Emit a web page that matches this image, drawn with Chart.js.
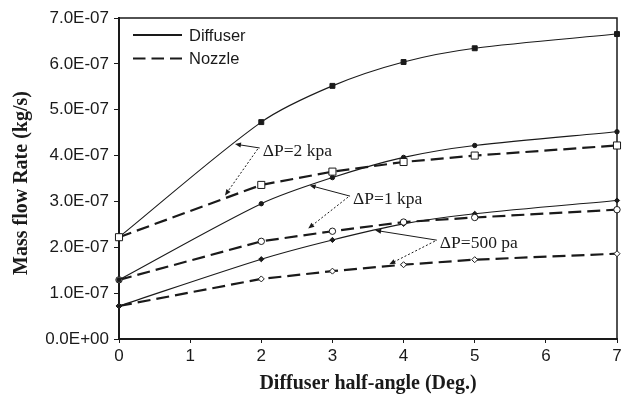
<!DOCTYPE html>
<html><head><meta charset="utf-8">
<script src="https://cdn.jsdelivr.net/npm/chart.js@4"></script>
<style>html,body{margin:0;padding:0;background:#fff}canvas{display:block}</style>
</head><body>
<canvas id="c" width="627" height="400"></canvas>
<script>
// ---- data ----
const angles = [0, 2, 3, 4, 5, 7];
const diffuser2kPa  = [2.22e-7, 4.73e-7, 5.52e-7, 6.04e-7, 6.34e-7, 6.65e-7];
const nozzle2kPa    = [2.22e-7, 3.36e-7, 3.65e-7, 3.86e-7, 4.00e-7, 4.22e-7];
const diffuser1kPa  = [1.29e-7, 2.95e-7, 3.52e-7, 3.96e-7, 4.22e-7, 4.52e-7];
const nozzle1kPa    = [1.29e-7, 2.13e-7, 2.35e-7, 2.55e-7, 2.65e-7, 2.82e-7];
const diffuser500Pa = [0.72e-7, 1.74e-7, 2.16e-7, 2.51e-7, 2.73e-7, 3.02e-7];
const nozzle500Pa   = [0.72e-7, 1.31e-7, 1.48e-7, 1.62e-7, 1.73e-7, 1.86e-7];
const xTicks = [0, 1, 2, 3, 4, 5, 6, 7];
const yTicks = [0, 1e-7, 2e-7, 3e-7, 4e-7, 5e-7, 6e-7, 7e-7];
const legendLabels = ['Diffuser', 'Nozzle'];
const xTitle = 'Diffuser half-angle (Deg.)';
const yTitle = 'Mass flow Rate (kg/s)';
const annotationTexts = ['ΔP=2 kpa', 'ΔP=1 kpa', 'ΔP=500 pa'];
const annotationAt = [[2.02, 4.10e-7], [3.29, 3.05e-7], [4.51, 2.09e-7]];
const solidArrowTo = [[1.63, 4.25e-7], [2.68, 3.35e-7], [3.60, 2.37e-7]];
const dottedArrowTo = [[1.49, 3.13e-7], [2.66, 2.41e-7], [3.80, 1.63e-7]];

const INK = '#1a1a1a';
const SANS = '"Liberation Sans", Arial, sans-serif';
const SERIF = '"Liberation Serif", "Times New Roman", serif';

function sci(v) {
  if (Math.abs(v) < 1e-15) return '0.0E+00';
  let e = Math.floor(Math.log10(Math.abs(v)) + 1e-9);
  let m = v / Math.pow(10, e);
  if (Math.abs(m) >= 9.95) { m /= 10; e += 1; }
  return m.toFixed(1) + 'E' + (e < 0 ? '-' : '+') + String(Math.abs(e)).padStart(2, '0');
}
const pts = arr => angles.map((a, i) => ({x: a, y: arr[i]}));

function diffuserSet(arr, style, r, order) {
  return {data: pts(arr), borderColor: INK, borderWidth: 1.1, tension: 0.3,
    pointStyle: style, pointRadius: r, pointBackgroundColor: INK, pointBorderColor: INK,
    pointBorderWidth: 1, clip: false, order: order};
}
function nozzleSet(arr, style, r, order) {
  return {data: pts(arr), borderColor: INK, borderWidth: 2.2, borderDash: [13, 6], tension: 0,
    pointStyle: style, pointRadius: r, pointBackgroundColor: '#fff', pointBorderColor: INK,
    pointBorderWidth: 1, clip: false, order: order};
}

function arrow(ctx, x1, y1, x2, y2, dotted) {
  ctx.save();
  ctx.strokeStyle = INK; ctx.fillStyle = INK; ctx.lineWidth = 1;
  ctx.setLineDash(dotted ? [2, 2] : []);
  const ang = Math.atan2(y2 - y1, x2 - x1);
  const hl = 6, hw = 2.5;
  ctx.beginPath(); ctx.moveTo(x1, y1);
  ctx.lineTo(x2 - Math.cos(ang) * hl * 0.8, y2 - Math.sin(ang) * hl * 0.8); ctx.stroke();
  ctx.setLineDash([]);
  ctx.beginPath();
  ctx.moveTo(x2, y2);
  ctx.lineTo(x2 - Math.cos(ang) * hl + Math.sin(ang) * hw, y2 - Math.sin(ang) * hl - Math.cos(ang) * hw);
  ctx.lineTo(x2 - Math.cos(ang) * hl - Math.sin(ang) * hw, y2 - Math.sin(ang) * hl + Math.cos(ang) * hw);
  ctx.closePath(); ctx.fill();
  ctx.restore();
}

const decor = {
  id: 'decor',
  beforeDatasetsDraw(chart) {
    const {ctx, chartArea: a} = chart;
    ctx.save();
    ctx.strokeStyle = INK; ctx.lineWidth = 1.5;
    ctx.beginPath();
    ctx.moveTo(a.left, a.top); ctx.lineTo(a.right, a.top); ctx.lineTo(a.right, a.bottom);
    ctx.stroke();
    ctx.restore();
  },
  afterDraw(chart) {
    const {ctx, chartArea: a, scales: {x, y}} = chart;
    ctx.save();
    // legend
    ctx.strokeStyle = INK;
    ctx.lineWidth = 2.2;
    ctx.beginPath(); ctx.moveTo(a.left + 14, a.top + 17); ctx.lineTo(a.left + 63, a.top + 17); ctx.stroke();
    ctx.setLineDash([12.5, 6]);
    ctx.beginPath(); ctx.moveTo(a.left + 14, a.top + 40.5); ctx.lineTo(a.left + 63, a.top + 40.5); ctx.stroke();
    ctx.setLineDash([]);
    ctx.fillStyle = INK;
    ctx.font = '16.5px ' + SANS;
    ctx.textAlign = 'left'; ctx.textBaseline = 'middle';
    ctx.fillText(legendLabels[0], a.left + 70, a.top + 18);
    ctx.fillText(legendLabels[1], a.left + 70, a.top + 41);
    // annotations
    ctx.font = '17.5px ' + SERIF;
    annotationTexts.forEach((t, i) => {
      const tx = x.getPixelForValue(annotationAt[i][0]);
      const ty = y.getPixelForValue(annotationAt[i][1]);
      ctx.fillText(t, tx, ty);
      arrow(ctx, tx - 3, ty - 3, x.getPixelForValue(solidArrowTo[i][0]), y.getPixelForValue(solidArrowTo[i][1]), false);
      arrow(ctx, tx - 5, ty - 2, x.getPixelForValue(dottedArrowTo[i][0]), y.getPixelForValue(dottedArrowTo[i][1]), true);
    });
    // axis titles
    ctx.font = 'bold 20px ' + SERIF;
    ctx.textAlign = 'center';
    ctx.fillText(xTitle, (a.left + a.right) / 2 + 0, 384);
    ctx.translate(22, 183);
    ctx.rotate(-Math.PI / 2);
    ctx.fillText(yTitle, 0, 0);
    ctx.restore();
  }
};

new Chart(document.getElementById('c'), {
  type: 'line',
  data: {
    datasets: [
      nozzleSet(nozzle2kPa, 'rect', 5, 1),
      diffuserSet(diffuser2kPa, 'rect', 3.5, 2),
      diffuserSet(diffuser1kPa, 'circle', 2.2, 3),
      nozzleSet(nozzle1kPa, 'circle', 3.2, 4),
      diffuserSet(diffuser500Pa, 'rectRot', 2.6, 5),
      nozzleSet(nozzle500Pa, 'rectRot', 3, 6)
    ]
  },
  options: {
    responsive: false,
    devicePixelRatio: 1,
    animation: false,
    events: [],
    layout: {padding: {top: 18, right: 10, left: 0, bottom: 0}},
    plugins: {legend: {display: false}, tooltip: {enabled: false}},
    scales: {
      x: {
        type: 'linear', min: 0, max: 7,
        afterBuildTicks: s => { s.ticks = xTicks.map(v => ({value: v})); },
        afterFit: s => { s.height = 61; },
        ticks: {autoSkip: false, maxRotation: 0, padding: 3, color: INK,
          font: {family: SANS, size: 17}, callback: v => String(v)},
        grid: {drawOnChartArea: false, tickLength: 4, color: INK, lineWidth: 1},
        border: {color: INK, width: 2}
      },
      y: {
        type: 'linear', min: 0, max: 7e-7,
        afterBuildTicks: s => { s.ticks = yTicks.map(v => ({value: v})); },
        afterFit: s => { s.width = 119; },
        ticks: {autoSkip: false, padding: 5, color: INK,
          font: {family: SANS, size: 17}, callback: v => sci(v)},
        grid: {drawOnChartArea: false, tickLength: 5, color: INK, lineWidth: 1},
        border: {color: INK, width: 2}
      }
    }
  },
  plugins: [decor]
});
</script>
</body></html>
